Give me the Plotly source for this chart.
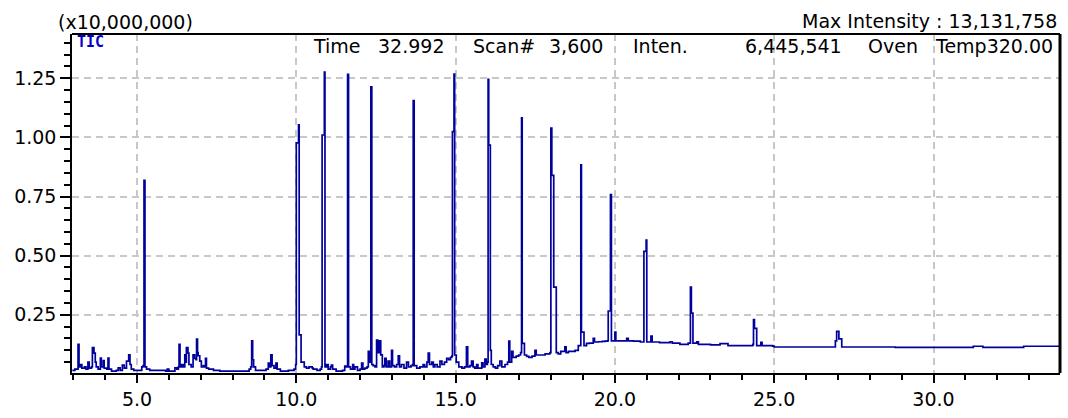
import plotly.graph_objects as go

# ---------------- data ----------------
# retention time, minutes
time_min = [
    2.97, 3.05, 3.12, 3.15, 3.18, 3.22, 3.27, 3.35, 3.40, 3.46, 3.50, 3.57, 3.60, 3.65, 3.69, 3.72,
    3.78, 3.85, 3.88, 3.94, 3.97, 4.05, 4.09, 4.12, 4.20, 4.35, 4.41, 4.47, 4.54, 4.60, 4.67, 4.74,
    4.78, 4.82, 4.90, 5.05, 5.15, 5.19, 5.22, 5.25, 5.30, 5.40, 5.90, 5.95, 6.00, 6.19, 6.25, 6.30,
    6.32, 6.35, 6.40, 6.45, 6.50, 6.53, 6.55, 6.60, 6.63, 6.70, 6.76, 6.81, 6.85, 6.87, 6.90, 6.92,
    6.97, 7.02, 7.08, 7.12, 7.15, 7.18, 7.25, 7.40, 7.60, 8.30, 8.52, 8.57, 8.60, 8.63, 8.66, 8.72,
    8.95, 9.05, 9.12, 9.16, 9.20, 9.24, 9.30, 9.36, 9.40, 9.50, 9.75, 9.93, 9.98, 10.00, 10.05, 10.07,
    10.09, 10.13, 10.15, 10.25, 10.32, 10.40, 10.50, 10.53, 10.65, 10.75, 10.79, 10.81, 10.86, 10.88,
    10.90, 10.95, 11.00, 11.07, 11.10, 11.14, 11.25, 11.45, 11.52, 11.57, 11.61, 11.64, 11.70, 11.77,
    11.80, 11.84, 11.92, 12.00, 12.05, 12.09, 12.15, 12.22, 12.26, 12.30, 12.34, 12.37, 12.41, 12.47,
    12.52, 12.56, 12.60, 12.65, 12.70, 12.75, 12.78, 12.82, 12.88, 12.93, 12.99, 13.02, 13.08, 13.15,
    13.20, 13.24, 13.30, 13.38, 13.46, 13.52, 13.60, 13.65, 13.67, 13.70, 13.78, 13.88, 13.98, 14.03,
    14.10, 14.14, 14.18, 14.25, 14.30, 14.35, 14.42, 14.51, 14.57, 14.65, 14.72, 14.78, 14.84, 14.88,
    14.90, 14.93, 14.95, 14.97, 15.02, 15.10, 15.20, 15.28, 15.34, 15.38, 15.45, 15.50, 15.55, 15.60,
    15.66, 15.70, 15.82, 15.86, 15.92, 15.96, 16.00, 16.02, 16.04, 16.07, 16.09, 16.12, 16.18, 16.25,
    16.32, 16.39, 16.45, 16.55, 16.63, 16.67, 16.70, 16.76, 16.80, 16.90, 16.98, 17.04, 17.07, 17.09,
    17.13, 17.16, 17.23, 17.30, 17.40, 17.49, 17.53, 17.60, 17.70, 17.81, 17.90, 17.96, 17.99, 18.02,
    18.06, 18.08, 18.14, 18.16, 18.22, 18.30, 18.43, 18.47, 18.54, 18.60, 18.75, 18.85, 18.90, 18.93,
    18.95, 19.00, 19.03, 19.11, 19.20, 19.32, 19.36, 19.48, 19.60, 19.69, 19.76, 19.79, 19.84, 19.86,
    19.89, 19.97, 20.00, 20.03, 20.20, 20.37, 20.42, 20.58, 20.80, 20.89, 20.91, 20.96, 20.98, 21.00,
    21.10, 21.13, 21.17, 21.40, 21.73, 21.80, 22.04, 22.30, 22.35, 22.37, 22.40, 22.43, 22.45, 22.57,
    22.62, 23.00, 23.30, 23.50, 23.55, 24.25, 24.33, 24.35, 24.38, 24.42, 24.45, 24.55, 24.58, 24.62,
    24.95, 25.00, 26.85, 26.92, 26.96, 27.00, 27.03, 27.08, 27.12, 28.60, 28.80, 31.20, 31.25, 31.50,
    31.55, 32.80, 32.83, 33.97,
]

# total ion current, in units of 10,000,000 counts
intensity_e7 = [
    0.015, 0.020, 0.020, 0.125, 0.030, 0.040, 0.025, 0.030, 0.020, 0.050, 0.025, 0.030, 0.111, 0.088, 0.050, 0.030,
    0.020, 0.067, 0.030, 0.056, 0.025, 0.020, 0.067, 0.020, 0.012, 0.015, 0.026, 0.015, 0.037, 0.025, 0.054, 0.081,
    0.040, 0.020, 0.015, 0.015, 0.030, 0.035, 0.818, 0.030, 0.020, 0.015, 0.012, 0.020, 0.012, 0.026, 0.020, 0.030,
    0.125, 0.030, 0.040, 0.030, 0.081, 0.050, 0.111, 0.088, 0.040, 0.030, 0.081, 0.066, 0.060, 0.147, 0.090, 0.077,
    0.054, 0.030, 0.035, 0.030, 0.066, 0.025, 0.020, 0.015, 0.012, 0.012, 0.020, 0.030, 0.140, 0.060, 0.030, 0.015,
    0.015, 0.020, 0.046, 0.030, 0.081, 0.035, 0.025, 0.046, 0.020, 0.012, 0.015, 0.020, 0.040, 0.977, 0.977, 1.053,
    0.165, 0.165, 0.050, 0.030, 0.025, 0.030, 0.025, 0.020, 0.015, 0.020, 0.030, 1.010, 1.010, 1.276,
    0.030, 0.040, 0.020, 0.030, 0.037, 0.020, 0.012, 0.015, 0.033, 0.030, 1.266, 0.030, 0.020, 0.040,
    0.020, 0.030, 0.015, 0.020, 0.046, 0.020, 0.025, 0.030, 0.095, 0.050, 1.214, 0.040, 0.035, 0.030,
    0.143, 0.090, 0.140, 0.081, 0.030, 0.035, 0.066, 0.030, 0.054, 0.030, 0.100, 0.035, 0.030, 0.040,
    0.077, 0.030, 0.040, 0.025, 0.050, 0.030, 0.035, 0.040, 1.156, 0.035, 0.025, 0.030, 0.040, 0.030,
    0.050, 0.088, 0.040, 0.050, 0.030, 0.040, 0.030, 0.054, 0.040, 0.050, 0.066, 0.060, 0.070, 0.075,
    1.024, 1.024, 1.268, 0.080, 0.050, 0.030, 0.025, 0.030, 0.115, 0.030, 0.035, 0.054, 0.030, 0.025,
    0.040, 0.025, 0.047, 0.030, 0.063, 0.040, 0.050, 1.245, 0.967, 0.967, 0.100, 0.040, 0.030, 0.025,
    0.035, 0.054, 0.030, 0.040, 0.050, 0.139, 0.050, 0.095, 0.070, 0.075, 0.080, 0.090, 1.083, 0.129,
    0.129, 0.080, 0.074, 0.070, 0.075, 0.100, 0.080, 0.080, 0.080, 0.085, 0.085, 0.090, 1.039, 0.839,
    0.839, 0.367, 0.367, 0.090, 0.085, 0.095, 0.115, 0.090, 0.095, 0.095, 0.100, 0.120, 0.120, 0.884,
    0.177, 0.177, 0.120, 0.129, 0.130, 0.150, 0.135, 0.136, 0.138, 0.139, 0.140, 0.266, 0.266, 0.758,
    0.140, 0.140, 0.177, 0.140, 0.140, 0.150, 0.140, 0.139, 0.135, 0.135, 0.518, 0.518, 0.566, 0.135,
    0.135, 0.160, 0.135, 0.132, 0.136, 0.130, 0.125, 0.130, 0.130, 0.367, 0.257, 0.257, 0.130, 0.136,
    0.125, 0.123, 0.128, 0.128, 0.120, 0.120, 0.125, 0.230, 0.193, 0.193, 0.120, 0.120, 0.134, 0.120,
    0.118, 0.114, 0.114, 0.140, 0.180, 0.180, 0.148, 0.148, 0.114, 0.114, 0.112, 0.112, 0.117, 0.117,
    0.112, 0.112, 0.117, 0.112,
]

x_tick_values = [5, 10, 15, 20, 25, 30]
y_tick_values = [0.25, 0.50, 0.75, 1.00, 1.25]

scale_label = "(x10,000,000)"
max_label = "Max Intensity : 13,131,758"
trace_label = "TIC"
status_items = [("Time", 311, "left"), ("32.992", 446, "right"), ("Scan#", 471, "left"),
                ("3,600", 605, "right"), ("Inten.", 631, "left"), ("6,445,541", 844, "right"),
                ("Oven", 866, "left"), ("Temp320.00", 1055, "right")]

# ---------------- figure ----------------
W, H = 1068, 418
L, R, T, B = 72, 8, 34, 36


def px(x):
    return (x - L) / (W - L - R)


def py(y):
    return (H - B - y) / (H - T - B)


fig = go.Figure()
fig.add_trace(go.Scatter(x=time_min, y=intensity_e7, mode="lines",
                         line=dict(color="#00009c", width=1.7, shape="hv"), hoverinfo="skip",
                         showlegend=False))

font_main = "DejaVu Sans"
fs = 19

annotations = [
    dict(text=scale_label, x=px(56), y=py(22), xanchor="left", yanchor="middle"),
    dict(text=max_label, x=px(1059), y=py(21), xanchor="right", yanchor="middle"),
]
for txt, xp, anc in status_items:
    annotations.append(dict(text=txt, x=px(xp), y=py(46), xanchor=anc, yanchor="middle"))
for a in annotations:
    a.update(xref="paper", yref="paper", showarrow=False,
             font=dict(family=font_main, size=fs, color="#000000"))
annotations.append(dict(text="<b>" + trace_label + "</b>", x=px(75), y=py(42), xref="paper",
                        yref="paper", xanchor="left", yanchor="middle", showarrow=False,
                        font=dict(family="DejaVu Sans Mono", size=15, color="#0000c8")))

fig.update_layout(
    width=W, height=H, autosize=False,
    margin=dict(l=L, r=R, t=T, b=B, pad=0),
    paper_bgcolor="white", plot_bgcolor="white",
    font=dict(family=font_main, size=fs, color="#000000"),
    annotations=annotations,
    shapes=[
        dict(type="line", xref="paper", yref="paper", x0=0, x1=1, y0=1, y1=1,
             line=dict(color="#000000", width=2)),
        dict(type="line", xref="paper", yref="paper", x0=1, x1=1, y0=0, y1=1,
             line=dict(color="#000000", width=3)),
    ],
)

fig.update_xaxes(
    range=[2.96, 33.97], showline=True, linecolor="#000000", linewidth=1.5,
    tickmode="array", tickvals=x_tick_values, tickformat=".1f",
    ticks="outside", ticklen=8, tickwidth=1.5, tickcolor="#000000",
    showgrid=True, gridcolor="#c8c8c8", gridwidth=2, griddash="7px,5px",
    minor=dict(dtick=1, tick0=0, ticks="outside", ticklen=5, tickwidth=1.5,
               tickcolor="#000000", showgrid=False),
    zeroline=False, tickfont=dict(family=font_main, size=fs),
)
fig.update_yaxes(
    range=[0.004, 1.437], showline=True, linecolor="#000000", linewidth=1.5,
    tickmode="array", tickvals=y_tick_values, tickformat=".2f",
    ticks="outside", ticklen=10, tickwidth=1.5, tickcolor="#000000",
    showgrid=True, gridcolor="#c8c8c8", gridwidth=2, griddash="7px,5px",
    minor=dict(dtick=0.05, tick0=0, ticks="outside", ticklen=6, tickwidth=1.5,
               tickcolor="#000000", showgrid=False),
    zeroline=False, tickfont=dict(family=font_main, size=fs),
)

fig.write_html("out.html")
